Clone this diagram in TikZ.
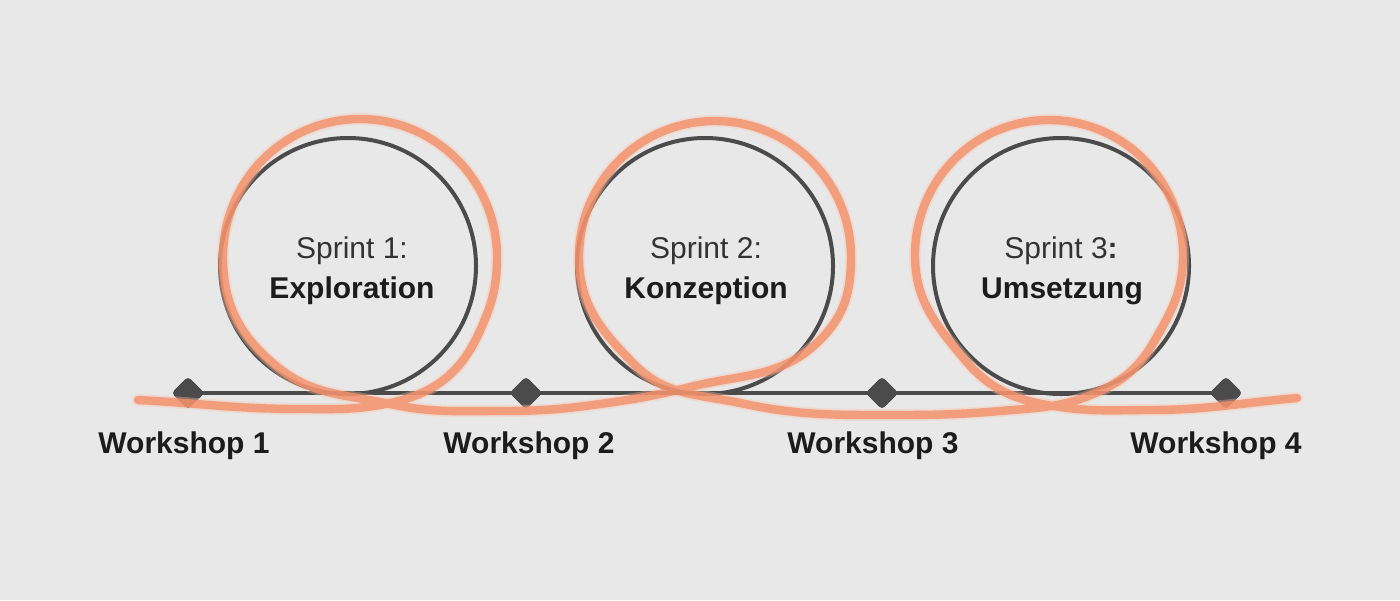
\documentclass[tikz,border=0pt]{standalone}
\usepackage{fontspec}
\setmainfont{Liberation Sans}
\definecolor{bg}{HTML}{E8E8E8}
\definecolor{ink}{HTML}{4B4B4B}
\definecolor{coral}{HTML}{F4906A}
\definecolor{txt}{HTML}{1C1C1C}
\definecolor{txtlight}{HTML}{333333}
\tikzset{
  ring/.style={circle, draw=ink, line width=2pt, minimum size=128pt, inner sep=0pt},
  milestone/.style={rectangle, rotate=45, fill=ink, minimum size=11.6pt, inner sep=0pt, rounded corners=2pt},
  wlabel/.style={anchor=base, inner sep=0pt, font=\fontsize{15}{18}\selectfont\bfseries, text=txt},
  slight/.style={anchor=base, inner sep=0pt, font=\fontsize{15}{18}\selectfont, text=txtlight},
  sbold/.style={anchor=base, inner sep=0pt, font=\fontsize{15}{18}\selectfont\bfseries, text=txt},
  timeline/.style={draw=ink, line width=2pt},
  glow/.style={line width=6pt, draw=coral!55!white, opacity=0.35, line cap=round, line join=round},
  spring/.style={line width=4.2pt, draw=coral, opacity=0.82, line cap=round, line join=round}
}
\begin{document}
\begin{tikzpicture}[x=0.5pt,y=-0.5pt]
\fill[bg] (0,0) rectangle (1400,600);
\useasboundingbox (0,0) rectangle (1400,600);

% circles
\node[ring] (c1) at (348,266) {};
\node[ring] (c2) at (705,266) {};
\node[ring] (c3) at (1061,266) {};

% milestones
\node[milestone] (d1) at (188,393) {};
\node[milestone] (d2) at (526,393) {};
\node[milestone] (d3) at (882,393) {};
\node[milestone] (d4) at (1226,393) {};
\draw[timeline] (d1.center) -- (d4.center);
\node[milestone] at (d1.center) {};
\node[milestone] at (d2.center) {};
\node[milestone] at (d3.center) {};
\node[milestone] at (d4.center) {};

% texts
\node[slight] (s1a) at (352,258) {Sprint 1:};
\node[sbold]  (s1b) at (352,298) {Exploration};
\node[slight] (s2a) at (706,258) {Sprint 2:};
\node[sbold]  (s2b) at (706,298) {Konzeption};
\node[slight] (s3a) at (1061,258) {Sprint 3\textbf{:}};
\node[sbold]  (s3b) at (1062,298) {Umsetzung};

\node[wlabel] (w1) at (184,453) {Workshop 1};
\node[wlabel] (w2) at (529,453) {Workshop 2};
\node[wlabel] (w3) at (873,453) {Workshop 3};
\node[wlabel] (w4) at (1216,453) {Workshop 4};

% orange spring (angles are screen angles, counter-clockwise)
\def\springpath{(138,400) to[out=-3,in=180] (300,409) to[out=0,in=-168] (390,403)
  to[out=12,in=-115] (478,335) to[out=65,in=-90] (497,257)
  to[out=90,in=0] (360,119) to[out=180,in=90] (223,257)
  to[out=-90,in=140] (275,365) to[out=-40,in=168] (390,404)
  to[out=-12,in=180] (500,411) to[out=0,in=-172] (600,404)
  to[out=8,in=-166] (690,387) to[out=14,in=-135] (820,340)
  to[out=45,in=-90] (851,257) to[out=90,in=0] (715,121)
  to[out=180,in=90] (579,257) to[out=-90,in=135] (635,365)
  to[out=-45,in=168] (740,403) to[out=-12,in=180] (880,415)
  to[out=0,in=-175] (1000,411) to[out=5,in=-155] (1100,391)
  to[out=25,in=-120] (1155,340) to[out=60,in=-90] (1183,255)
  to[out=90,in=0] (1049,120) to[out=180,in=90] (915,255)
  to[out=-90,in=130] (965,360) to[out=-50,in=172] (1060,407)
  to[out=-8,in=180] (1150,410) to[out=0,in=-175] (1297,398)}
\draw[glow] \springpath;
\draw[spring] \springpath;
\end{tikzpicture}
\end{document}
